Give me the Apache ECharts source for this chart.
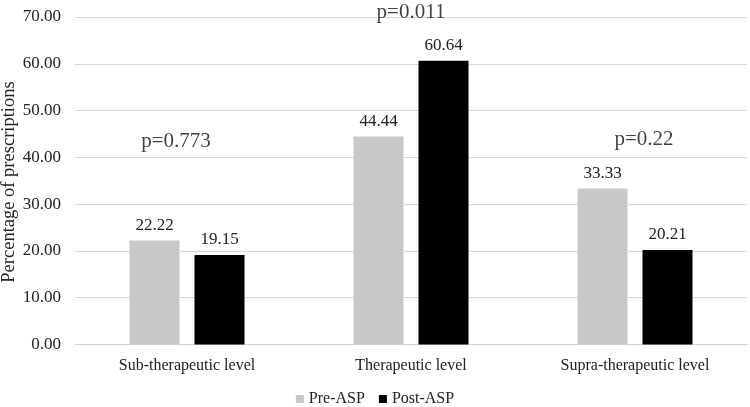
<!DOCTYPE html>
<html><head><meta charset="utf-8">
<script src="https://cdn.jsdelivr.net/npm/echarts@6/dist/echarts.min.js"></script>
<style>html,body{margin:0;padding:0;background:#fff}#c{width:750px;height:407px}</style>
</head><body><div id="c"></div>
<script>
const categories = ['Sub-therapeutic level', 'Therapeutic level', 'Supra-therapeutic level'];
const preASP = [22.22, 44.44, 33.33];
const postASP = [19.15, 60.64, 20.21];
const pLabels = ['p=0.773', 'p=0.011', 'p=0.22'];
const pHeights = [43.4, 71.0, 43.8];
const yTicks = [0, 10, 20, 30, 40, 50, 60, 70];
const yAxisTitle = 'Percentage of prescriptions';

const font = 'Liberation Serif';
const labelShift = [[-11, 0], [0, 0], [9, 0]];
const chart = echarts.init(document.getElementById('c'));
chart.setOption({
  animation: false,
  textStyle: { fontFamily: font },
  grid: { left: 75, right: 3, top: 17, bottom: 62.5, outerBoundsMode: 'none', containLabel: false },
  graphic: [{
    type: 'text', x: 9, y: 182, rotation: Math.PI / 2,
    style: { text: yAxisTitle, fontFamily: font, fontSize: 18.5, fill: '#222',
      align: 'center', verticalAlign: 'middle' }
  }],
  legend: {
    top: 386, left: 'center',
    itemWidth: 8, itemHeight: 8, itemGap: 14,
    textStyle: { fontFamily: font, fontSize: 16, color: '#222' },
    data: [{ name: 'Pre-ASP', icon: 'rect' }, { name: 'Post-ASP', icon: 'rect' }]
  },
  xAxis: {
    type: 'category', data: categories,
    axisTick: { show: false },
    axisLine: { lineStyle: { color: '#d0d0d0', width: 1 } },
    axisLabel: { fontFamily: font, fontSize: 16, color: '#222', margin: 13 }
  },
  yAxis: {
    type: 'value', min: yTicks[0], max: yTicks[yTicks.length - 1], interval: 10,
    axisLine: { show: false }, axisTick: { show: false },
    axisLabel: { fontFamily: font, fontSize: 17, color: '#222', margin: 14,
      formatter: v => v.toFixed(2) },
    splitLine: { lineStyle: { color: '#d9d9d9', width: 1 } }
  },
  series: [
    { name: 'Pre-ASP', type: 'bar', data: preASP, barWidth: 50, barGap: '30%',
      itemStyle: { color: '#c8c8c8' },
      label: { show: true, position: 'top', distance: 7, fontFamily: font, fontSize: 17, color: '#222',
        formatter: p => p.value.toFixed(2) } },
    { name: 'Post-ASP', type: 'bar', data: postASP, barWidth: 50,
      itemStyle: { color: '#000' },
      label: { show: true, position: 'top', distance: 7, fontFamily: font, fontSize: 17, color: '#222',
        formatter: p => p.value.toFixed(2) } },
    { name: 'p', type: 'scatter', symbolSize: 0, clip: false, silent: true,
      data: categories.map((c, i) => ({ value: [c, pHeights[i]], name: pLabels[i],
        label: { offset: labelShift[i] } })),
      label: { show: true, position: 'inside', fontFamily: font, fontSize: 21, color: '#111',
        formatter: p => p.name } }
  ]
});
</script></body></html>
